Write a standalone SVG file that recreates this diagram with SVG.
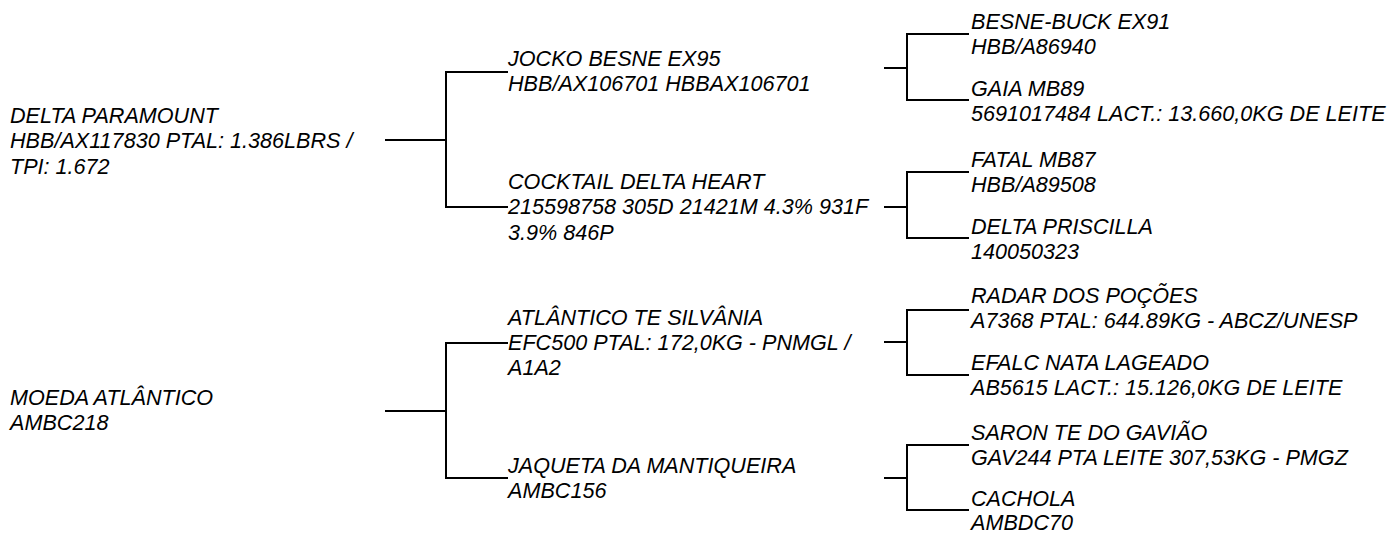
<svg xmlns="http://www.w3.org/2000/svg" width="1387" height="534" viewBox="0 0 1387 534">
<style>
text { font-family: "Liberation Sans", Arial, sans-serif; font-style: italic; font-size: 21.6px; fill: #000; }
.c { fill: none; stroke: #000; stroke-width: 2; stroke-linecap: square; }
</style>
<rect width="1387" height="534" fill="#fff"/>
<g id="connectors">
  <path class="c" d="M386,140 H446 M446,72 V207 M446,72 H507 M446,207 H507"/>
  <path class="c" d="M386,411 H446 M446,343 V478 M446,343 H507 M446,478 H507"/>
  <path class="c" d="M885,68 H907 M907,34 V100 M907,34 H968 M907,100 H968"/>
  <path class="c" d="M885,207 H907 M907,172 V238 M907,172 H968 M907,238 H968"/>
  <path class="c" d="M885,342 H907 M907,310 V375 M907,310 H968 M907,375 H968"/>
  <path class="c" d="M885,478 H907 M907,445 V510 M907,445 H968 M907,510 H968"/>
</g>
<g id="delta-paramount"><text x="10" y="122.6">DELTA PARAMOUNT<tspan x="10" dy="25.8">HBB/AX117830 PTAL: 1.386LBRS /</tspan><tspan x="10" dy="25.8">TPI: 1.672</tspan></text></g>
<g id="moeda-atlantico"><text x="10" y="404.6">MOEDA ATLÂNTICO<tspan x="10" dy="25.4">AMBC218</tspan></text></g>
<g id="jocko-besne"><text x="508" y="65.6">JOCKO BESNE EX95<tspan x="508" dy="25.6">HBB/AX106701 HBBAX106701</tspan></text></g>
<g id="cocktail-delta-heart"><text x="508" y="188.6">COCKTAIL DELTA HEART<tspan x="508" dy="25.6">215598758 305D 21421M 4.3% 931F</tspan><tspan x="508" dy="25.4">3.9% 846P</tspan></text></g>
<g id="atlantico-te-silvania"><text x="508" y="324.6">ATLÂNTICO TE SILVÂNIA<tspan x="508" dy="25.2">EFC500 PTAL: 172,0KG - PNMGL /</tspan><tspan x="508" dy="25.2">A1A2</tspan></text></g>
<g id="jaqueta-da-mantiqueira"><text x="508" y="472.6">JAQUETA DA MANTIQUEIRA<tspan x="508" dy="25.2">AMBC156</tspan></text></g>
<g id="besne-buck"><text x="971" y="28.6">BESNE-BUCK EX91<tspan x="971" dy="25.6">HBB/A86940</tspan></text></g>
<g id="gaia"><text x="971" y="95.6">GAIA MB89<tspan x="971" dy="25.4">5691017484 LACT.: 13.660,0KG DE LEITE</tspan></text></g>
<g id="fatal"><text x="971" y="166.6">FATAL MB87<tspan x="971" dy="25.4">HBB/A89508</tspan></text></g>
<g id="delta-priscilla"><text x="971" y="233.6">DELTA PRISCILLA<tspan x="971" dy="25.4">140050323</tspan></text></g>
<g id="radar-dos-pocoes"><text x="971" y="302.6">RADAR DOS POÇÕES<tspan x="971" dy="25.2">A7368 PTAL: 644.89KG - ABCZ/UNESP</tspan></text></g>
<g id="efalc-nata-lageado"><text x="971" y="369.6">EFALC NATA LAGEADO<tspan x="971" dy="25.4">AB5615 LACT.: 15.126,0KG DE LEITE</tspan></text></g>
<g id="saron-te-do-gaviao"><text x="971" y="439.6">SARON TE DO GAVIÃO<tspan x="971" dy="25.2">GAV244 PTA LEITE 307,53KG - PMGZ</tspan></text></g>
<g id="cachola"><text x="971" y="505.6">CACHOLA<tspan x="971" dy="24">AMBDC70</tspan></text></g>
</svg>
